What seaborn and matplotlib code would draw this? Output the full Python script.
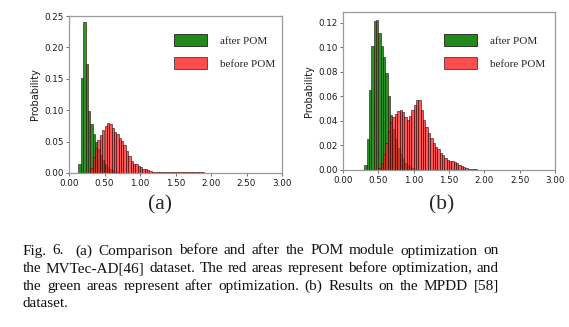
import numpy as np
import pandas as pd
import seaborn as sns
import matplotlib
matplotlib.use("Agg")
import matplotlib.pyplot as plt
from matplotlib.patches import Patch

# ---- histogram data (probability per bin, bin width 1/30) ----
bin_width = 1 / 30

# (a) MVTec-AD
a_after_start = 4
a_after = [0.015, 0.151, 0.240, 0.174, 0.099, 0.078, 0.062, 0.049, 0.038,
           0.028, 0.020, 0.014, 0.009, 0.006, 0.004, 0.002, 0.001]
a_before_start = 9
a_before = [0.008, 0.025, 0.040, 0.052, 0.061, 0.068, 0.075, 0.079, 0.078,
            0.072, 0.066, 0.062, 0.056, 0.051, 0.044, 0.035, 0.027, 0.019,
            0.015, 0.014, 0.011, 0.009, 0.007, 0.006, 0.005, 0.003, 0.002,
            0.002, 0.002, 0.002, 0.002, 0.002, 0.002, 0.002, 0.002, 0.002,
            0.002, 0.001, 0.001, 0.001, 0.001, 0.001, 0.001, 0.001, 0.001,
            0.001, 0.001, 0.001]

# (b) MPDD
b_after_start = 9
b_after = [0.004, 0.025, 0.065, 0.101, 0.121, 0.122, 0.112, 0.101, 0.092,
           0.079, 0.060, 0.045, 0.033, 0.025, 0.018, 0.013, 0.009, 0.006,
           0.004, 0.003, 0.002, 0.001]
b_before_start = 15
b_before = [0.002, 0.006, 0.013, 0.022, 0.032, 0.039, 0.043, 0.046, 0.048,
            0.049, 0.047, 0.043, 0.041, 0.044, 0.049, 0.053, 0.057, 0.057,
            0.049, 0.041, 0.035, 0.030, 0.026, 0.022, 0.019, 0.017, 0.014,
            0.012, 0.010, 0.008, 0.0075, 0.007, 0.0065, 0.0055, 0.004,
            0.0033, 0.0025, 0.0018, 0.0012, 0.001, 0.0008, 0.0005, 0.0003]

x_ticks = [0.0, 0.5, 1.0, 1.5, 2.0, 2.5, 3.0]
a_yticks = [0.00, 0.05, 0.10, 0.15, 0.20, 0.25]
b_yticks = [0.00, 0.02, 0.04, 0.06, 0.08, 0.10, 0.12]
legend_labels = ["after POM", "before POM"]
panel_labels = ["(a)", "(b)"]
caption_lines = [
    "Fig. 6.  (a) Comparison before and after the POM module optimization on",
    "the MVTec-AD[46] dataset. The red areas represent before optimization, and",
    "the green areas represent after optimization. (b) Results on the MPDD [58]",
    "dataset.",
]

GREEN = "#1f8c1a"
RED = "#ff2020"

sns.set_style("white")
plt.rcParams["font.family"] = ["DejaVu Sans"]

W, H = 569, 327
fig = plt.figure(figsize=(W / 100, H / 100), dpi=100)


def px_axes(x0, y0, x1, y1):
    return fig.add_axes([x0 / W, 1 - y1 / H, (x1 - x0) / W, (y1 - y0) / H])


def draw_hist(ax, start, heights, color, alpha):
    heights = np.asarray(heights, dtype=float)
    edges = (start + np.arange(len(heights) + 1)) * bin_width
    centers = (edges[:-1] + edges[1:]) / 2
    df = pd.DataFrame({"score": centers, "prob": heights})
    sns.histplot(data=df, x="score", weights="prob", bins=edges.tolist(), ax=ax,
                 color=color, alpha=alpha, edgecolor="#2a0a0a", linewidth=0.4)


def style_axes(ax, ymax, yticks):
    ax.set_xlim(0, 3.0)
    ax.set_ylim(0, ymax)
    ax.set_xticks(x_ticks)
    ax.set_xticklabels([f"{v:.2f}" for v in x_ticks])
    ax.set_yticks(yticks)
    ax.set_yticklabels([f"{v:.2f}" for v in yticks])
    ax.tick_params(axis="both", direction="out", length=2.5, width=0.6,
                   color="#555555", labelsize=6.3, labelcolor="#1a1a1a", pad=1.5,
                   bottom=True, left=True)
    for s in ax.spines.values():
        s.set_visible(True)
        s.set_color("#9a9a9a")
        s.set_linewidth(0.9)
    ax.set_xlabel("")
    ax.set_ylabel("Probability", fontsize=7, color="#1a1a1a", labelpad=2.5)


def add_legend(ax, x_px, y_px):
    handles = [Patch(facecolor=GREEN, edgecolor="#333333", linewidth=0.7),
               Patch(facecolor=RED, alpha=0.8, edgecolor="#333333", linewidth=0.7)]
    ax.legend(handles, legend_labels, loc="upper left",
              bbox_to_anchor=(x_px / W, 1 - y_px / H),
              bbox_transform=fig.transFigure, frameon=False,
              prop={"family": "Liberation Serif", "size": 8},
              handlelength=3.0, handleheight=1.27, handletextpad=1.1,
              labelspacing=1.0, borderpad=0, borderaxespad=0)


# panel (a)
ax_a = px_axes(69, 16, 282, 173)
draw_hist(ax_a, a_after_start, a_after, GREEN, 0.95)
draw_hist(ax_a, a_before_start, a_before, RED, 0.75)
style_axes(ax_a, 0.25, a_yticks)
add_legend(ax_a, 174, 34)

# panel (b)
ax_b = px_axes(343, 12, 555, 170)
draw_hist(ax_b, b_after_start, b_after, GREEN, 0.95)
draw_hist(ax_b, b_before_start, b_before, RED, 0.75)
style_axes(ax_b, 0.1287, b_yticks)
add_legend(ax_b, 444, 34)

fig.text(160 / W, 1 - 205 / H, panel_labels[0], ha="center", va="center",
         family="Liberation Serif", fontsize=15.5)
fig.text(441.5 / W, 1 - 205 / H, panel_labels[1], ha="center", va="center",
         family="Liberation Serif", fontsize=15.5)

# justified caption
renderer = fig.canvas.get_renderer()
cap_left, cap_right = 22.7, 499.0
baselines = [254.5, 272.2, 289.8, 307.3]
cap_kw = dict(family="Liberation Serif", fontsize=11.0, color="#111111",
              va="baseline", ha="left")
for i, line in enumerate(caption_lines):
    y = 1 - baselines[i] / H
    words = line.split(" ")
    # an empty entry marks a doubled space
    clean, gaps = [], []
    weight = 1.0
    for w in words:
        if w == "":
            weight += 1.0
            continue
        if clean:
            gaps.append(weight)
        clean.append(w)
        weight = 1.0
    texts = [fig.text(0, y, w, **cap_kw) for w in clean]
    widths = [t.get_window_extent(renderer).width for t in texts]
    last = i == len(caption_lines) - 1
    if last or not gaps:
        unit = 3.5
    else:
        unit = (cap_right - cap_left - sum(widths)) / sum(gaps)
    x = cap_left
    for j, t in enumerate(texts):
        t.set_x(x / W)
        x += widths[j]
        if j < len(gaps):
            x += unit * gaps[j]

fig.savefig("out.png", dpi=100)
